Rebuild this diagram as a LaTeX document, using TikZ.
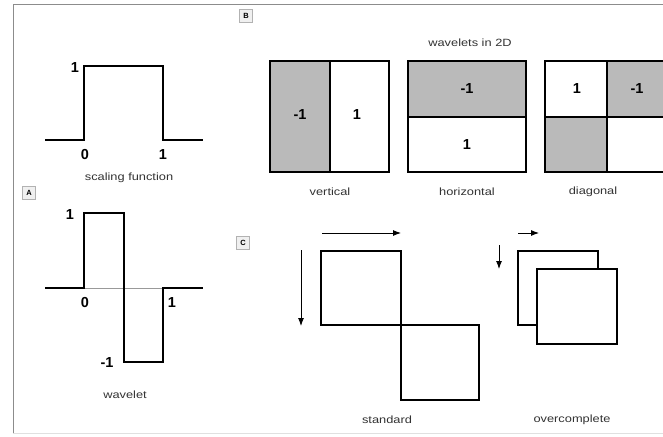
\documentclass[tikz,border=0pt]{standalone}
\usepackage{fontspec}
\setmainfont{Liberation Sans}
\newfontfamily\capfont[FakeStretch=1.22]{Liberation Sans}
\usetikzlibrary{arrows.meta}
\begin{document}
\begin{tikzpicture}[x=1pt,y=-1pt,
  curve/.style={line width=1.8pt,line join=miter},
  cell/.style={line width=1.8pt},
  shade/.style={fill=black!27},
  num/.style={font=\fontsize{14.5}{16}\selectfont\bfseries,inner sep=0pt},
  captext/.style={font=\capfont\fontsize{10.5}{12}\selectfont,text=black!80,inner sep=0pt},
  tag/.style={draw=black!30,fill=black!6,line width=0.6pt,font=\fontsize{7.5}{9}\selectfont\bfseries,minimum size=13pt,inner sep=0pt},
  frame/.style={draw=black!45,line width=1pt},
  arr/.style={line width=0.9pt,-{Latex[length=8pt,width=6pt]}}]
\useasboundingbox (0,0) rectangle (663,436);
\fill[white] (0,0) rectangle (663,436);
% frame
\draw[frame] (663,5) -- (13,5) -- (13,433);
\draw[black!12,line width=0.8pt] (13,433) -- (663,433);

% scaling function
\draw[curve] (45,140) -- (84,140) -- (84,66) -- (163,66) -- (163,140) -- (203,140);
\node[num] (s1) at (75,68) {1};
\node[num] (s0) at (85,155) {0};
\node[num] (sx1) at (163,155) {1};
\node[captext] (scap) at (129,178) {scaling function};
\node[tag] (tagA) at (29,193) {A};

% wavelet
\draw[black!40,line width=0.6pt] (84,288) -- (163,288);
\draw[curve] (45,288) -- (84,288) -- (84,213) -- (124,213) -- (124,362) -- (163,362) -- (163,288) -- (203,288);
\node[num] (w1) at (70,215) {1};
\node[num] (w0) at (85,303) {0};
\node[num] (wx1) at (172,303) {1};
\node[num] (wm1) at (107,363) {-1};
\node[captext] (wcap) at (125,395) {wavelet};

% B: wavelets in 2D
\node[tag] (tagB) at (246,16) {B};
\node[captext] (btitle) at (470,43) {wavelets in 2D};
% vertical
\fill[shade] (270,61) rectangle (330,172);
\draw[cell] (270,61) rectangle (389,172);
\draw[cell] (330,61) -- (330,172);
\node[num] (v1) at (300,115) {-1};
\node[num] (v2) at (357,115) {1};
\node[captext] (vcap) at (330,192) {vertical};
% horizontal
\fill[shade] (408,61) rectangle (526,117);
\draw[cell] (408,61) rectangle (526,172);
\draw[cell] (408,117) -- (526,117);
\node[num] (h1) at (467,89) {-1};
\node[num] (h2) at (467,145) {1};
\node[captext] (hcap) at (467,192) {horizontal};
% diagonal
\fill[shade] (607,61) rectangle (667,117);
\fill[shade] (545,117) rectangle (607,172);
\draw[cell] (545,61) rectangle (668,172);
\draw[cell] (607,61) -- (607,172);
\draw[cell] (545,117) -- (668,117);
\node[num] (d1) at (577,89) {1};
\node[num] (d2) at (637,89) {-1};
\node[captext] (dcap) at (593,192) {diagonal};

% C
\node[tag] (tagC) at (243,243) {C};
\coordinate (sh0) at (322,233);
\coordinate (sh1) at (401,233);
\coordinate (sv0) at (301,250);
\coordinate (sv1) at (301,326);
\draw[arr] (sh0) -- (sh1);
\draw[arr] (sv0) -- (sv1);
\draw[cell] (321,251) rectangle (401,325);
\draw[cell] (401,325) rectangle (479,400);
\node[captext] (stdcap) at (387,420) {standard};

\coordinate (oh0) at (518,233);
\coordinate (oh1) at (539,233);
\coordinate (ov0) at (499,245);
\coordinate (ov1) at (499,269);
\draw[arr] (oh0) -- (oh1);
\draw[arr] (ov0) -- (ov1);
\draw[cell] (518,251) rectangle (598,325);
\draw[cell,fill=white] (537,269) rectangle (617,344);
\node[captext] (ocap) at (572,420) {overcomplete};
\end{tikzpicture}
\end{document}
